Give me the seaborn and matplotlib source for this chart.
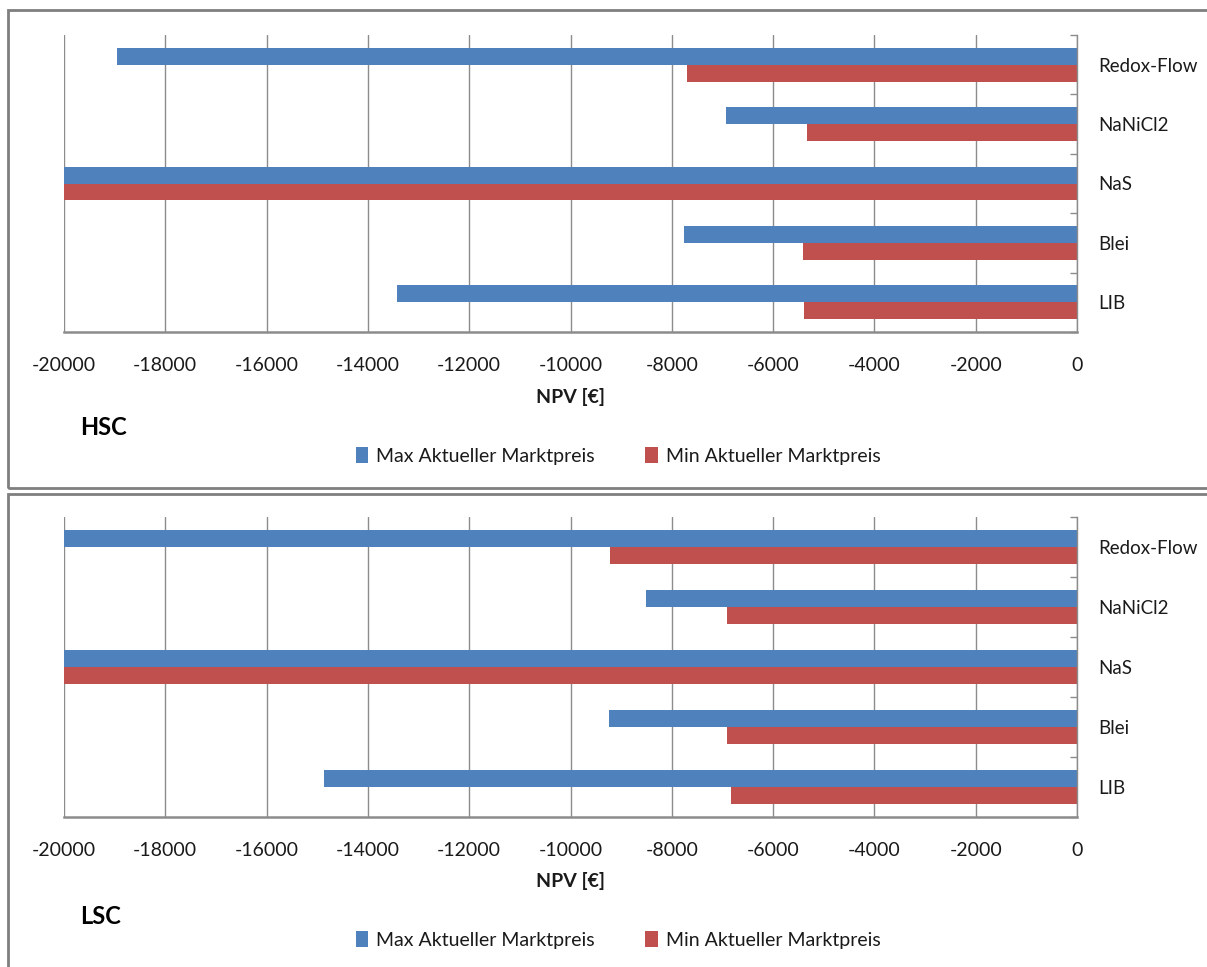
import pandas as pd
import seaborn as sns
import matplotlib.pyplot as plt
from matplotlib.patches import Rectangle

categories = ["Redox-Flow", "NaNiCl2", "NaS", "Blei", "LIB"]
series = ["Max Aktueller Marktpreis", "Min Aktueller Marktpreis"]
hsc_max = [-18950, -6930, -20000, -7760, -13430]
hsc_min = [-7700, -5330, -20000, -5410, -5390]
lsc_max = [-20000, -8510, -20000, -9240, -14870]
lsc_min = [-9220, -6910, -20000, -6910, -6830]
xticks = list(range(-20000, 1, 2000))

blue = "#4F81BD"
red = "#C0504D"
grid_c = "#8C8C8C"
text_c = "#1A1A1A"

sns.set_theme(style="white")
plt.rcParams['font.family'] = ['Lato', 'DejaVu Sans']


def make_df(vmax, vmin):
    return pd.DataFrame({
        "tech": categories * 2,
        "series": [series[0]] * len(categories) + [series[1]] * len(categories),
        "npv": vmax + vmin,
    })


fig = plt.figure(figsize=(12.07, 9.67), dpi=100)
left = 64 / 1207
width = (1077 - 64) / 1207
ax_top = fig.add_axes([left, 1 - 332 / 967, width, (332 - 35) / 967])
ax_bot = fig.add_axes([left, 1 - 817 / 967, width, (817 - 517) / 967])

panels = [(ax_top, make_df(hsc_max, hsc_min), "HSC", 397, 428, 456),
          (ax_bot, make_df(lsc_max, lsc_min), "LSC", 881, 917, 940)]

for ax, df, name, ylab, yname, yleg in panels:
    sns.barplot(data=df, x="npv", y="tech", hue="series", orient="h",
                order=categories, hue_order=series, palette=[blue, red],
                width=0.57, gap=0, saturation=1, linewidth=0, ax=ax)
    ax.set_xlim(-20000, 0)
    ax.set_ylim(len(categories) - 0.5, -0.5)
    ax.set_xticks(xticks)
    ax.set_xticklabels([str(t) for t in xticks], fontsize=14)
    ax.grid(axis="x", color=grid_c, linewidth=1)
    ax.set_axisbelow(True)
    for s in ["top", "left"]:
        ax.spines[s].set_visible(False)
    ax.spines["right"].set_color(grid_c)
    ax.spines["right"].set_linewidth(1)
    ax.spines["bottom"].set_color(grid_c)
    ax.spines["bottom"].set_linewidth(1.8)
    ax.tick_params(axis="x", length=6, color=grid_c, width=1, pad=12, labelcolor=text_c)
    ax.yaxis.tick_right()
    ax.tick_params(axis="y", which="major", length=0, pad=15, labelsize=13.5, labelcolor=text_c)
    ax.set_yticks([i + 0.5 for i in range(-1, len(categories))], minor=True)
    ax.tick_params(axis="y", which="minor", direction="in", length=5, color=grid_c, right=True)
    ax.set_ylabel("")
    ax.set_xlabel("")
    handles, labels = ax.get_legend_handles_labels()
    ax.legend_.remove()
    fig.text(571 / 1207, 1 - ylab / 967, "NPV [€]", ha="center", va="center",
             fontsize=14, fontweight="bold", color=text_c)
    fig.text(80 / 1207, 1 - yname / 967, name, ha="left", va="center",
             fontsize=17, fontweight="bold", color="black")
    fig.legend(handles, labels, loc="center", bbox_to_anchor=(618 / 1207, 1 - yleg / 967),
               ncol=2, frameon=False, fontsize=14, handlelength=0.65, handleheight=0.9,
               handletextpad=0.4, columnspacing=2.6, labelcolor=text_c)

fig.add_artist(Rectangle((8 / 1207, 1 - 488 / 967), 1.1, (488 - 10) / 967,
                         transform=fig.transFigure, fill=False,
                         edgecolor="#7F7F7F", linewidth=2))
fig.add_artist(Rectangle((8 / 1207, -0.05), 1.1, 1 - 494 / 967 + 0.05,
                         transform=fig.transFigure, fill=False,
                         edgecolor="#7F7F7F", linewidth=2))

fig.savefig("out.png", dpi=100, facecolor="white")
